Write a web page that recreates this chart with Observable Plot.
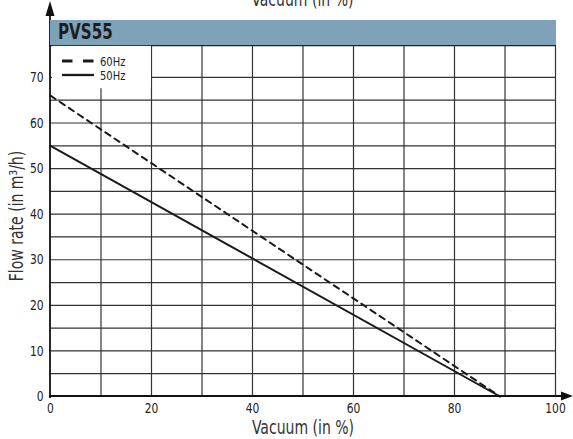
<!DOCTYPE html>
<html>
<head>
<meta charset="utf-8">
<script src="https://cdn.jsdelivr.net/npm/d3@7"></script>
<script src="https://cdn.jsdelivr.net/npm/@observablehq/plot@0.6"></script>
<style>
  body { margin: 0; background: #fff; }
  #wrap { position: relative; width: 573px; height: 439px; overflow: hidden;
    font-family: "Liberation Sans Narrow", "DejaVu Sans Condensed", "Arial Narrow", sans-serif; color: #222; }
  #wrap > svg { position: absolute; left: 0; top: 0; }
  .titlebar { position: absolute; left: 50px; top: 20px; width: 506px; height: 25px; background: #7ea2b8; }
  .titlebar span { position: absolute; left: 8px; top: 0px; font-weight: bold; font-size: 21px; line-height: 25px; color: #1e1e1e;
    transform: scaleX(0.8); transform-origin: left center; }
  .toptitle { position: absolute; left: 0; width: 605px; text-align: center; top: -12px; font-size: 19px; line-height: 22px; color: #333;
    transform: scaleX(0.82); transform-origin: 302px 0; }
  .legend { position: absolute; left: 62px; top: 54px; font-size: 13px; }
  .legend .row { display: flex; align-items: center; height: 14px; }
  .legend svg { margin-right: 6px; }
  .legend span { line-height: 13px; display: inline-block; transform: scaleX(0.85); transform-origin: left center; }
</style>
</head>
<body>
<div id="wrap"></div>
<script>
// ---- data ----
const vacuum = [0, 89];
const flow60Hz = [66, 0];
const flow50Hz = [55, 0];
const xTicks = [0, 20, 40, 60, 80, 100];
const yTicks = [0, 10, 20, 30, 40, 50, 60, 70];
const xGrid = [10, 20, 30, 40, 50, 60, 70, 80, 90, 100];
const yGrid = [5, 10, 15, 20, 25, 30, 35, 40, 45, 50, 55, 60, 65, 70];
const seriesNames = ["60Hz", "50Hz"];
const chartTitle = "PVS55";
const xLabel = "Vacuum (in %)";
const yLabel = "Flow rate (in m³/h)";
const xMax = 100, yMax = 77;
const legendBox = {x1: 0.4, x2: 20, y1: 67.5, y2: 76.8};

const d60 = vacuum.map((v, i) => ({x: v, y: flow60Hz[i]}));
const d50 = vacuum.map((v, i) => ({x: v, y: flow50Hz[i]}));

const font = '"Liberation Sans Narrow", "DejaVu Sans Condensed", "Arial Narrow", sans-serif';

const chart = Plot.plot({
  width: 573,
  height: 439,
  marginLeft: 50,
  marginRight: 18,
  marginTop: 45,
  marginBottom: 43,
  style: {fontFamily: font, fontSize: "15px", color: "#222", background: "transparent", overflow: "visible"},
  x: {domain: [0, xMax]},
  y: {domain: [0, yMax]},
  marks: [
    Plot.ruleX(xGrid, {x: d => d, y1: 0, y2: yMax, stroke: "#333", strokeWidth: 1.2, strokeOpacity: 1}),
    Plot.ruleY(yGrid, {y: d => d, x1: 0, x2: xMax, stroke: "#333", strokeWidth: 1.2, strokeOpacity: 1}),
    Plot.ruleY([yMax], {x1: 0, x2: xMax, stroke: "#222", strokeWidth: 1.4}),
    Plot.rect([legendBox], {x1: "x1", x2: "x2", y1: "y1", y2: "y2", fill: "white"}),
    Plot.line(d60, {x: "x", y: "y", stroke: "#1a1a1a", strokeWidth: 2, strokeDasharray: "6,5"}),
    Plot.line(d50, {x: "x", y: "y", stroke: "#1a1a1a", strokeWidth: 2}),
    Plot.axisX({ticks: xTicks, tickSize: 0, tickPadding: 6, label: null, fontSize: 14.5, tickFormat: d => d}),
    Plot.axisY({ticks: yTicks, tickSize: 0, tickPadding: 7, label: null, fontSize: 14.5, tickFormat: d => d}),
    Plot.text([xLabel], {frameAnchor: "bottom", textAnchor: "middle", lineAnchor: "middle", dy: 31, fontSize: 19, fill: "#333"}),
    Plot.text([yLabel], {frameAnchor: "left", textAnchor: "middle", lineAnchor: "middle", dx: -34, dy: -5, rotate: -90, fontSize: 19, fill: "#333"})
  ]
});

// axis lines with arrowheads
const sx = chart.scale("x"), sy = chart.scale("y");
const x0 = sx.apply(0), y0 = sy.apply(0);
const svgSel = d3.select(chart);
svgSel.append("line").attr("x1", x0).attr("x2", x0).attr("y1", y0 + 2).attr("y2", 10)
  .attr("stroke", "#111").attr("stroke-width", 1.8);
svgSel.append("line").attr("x1", x0 - 1).attr("x2", 565).attr("y1", y0).attr("y2", y0)
  .attr("stroke", "#111").attr("stroke-width", 1.8);
svgSel.append("path").attr("d", `M${x0},1 L${x0 + 4.5},16 L${x0 - 4.5},16 Z`).attr("fill", "#111");
svgSel.append("path").attr("d", `M573,${y0} L561,${y0 - 4.5} L561,${y0 + 4.5} Z`).attr("fill", "#111");

const wrap = document.getElementById("wrap");
wrap.appendChild(chart);

// condense SVG text horizontally to mimic a narrow typeface
chart.querySelectorAll("text").forEach(t => {
  const w = t.getComputedTextLength();
  if (w > 0) {
    t.setAttribute("textLength", (w * 0.82).toFixed(2));
    t.setAttribute("lengthAdjust", "spacingAndGlyphs");
  }
});

// top (cut) title
const topTitle = document.createElement("div");
topTitle.className = "toptitle";
topTitle.textContent = xLabel;
wrap.appendChild(topTitle);

// title bar
const tb = document.createElement("div");
tb.className = "titlebar";
tb.innerHTML = `<span>${chartTitle}</span>`;
wrap.appendChild(tb);

// legend
const lg = document.createElement("div");
lg.className = "legend";
const dashes = ["10.5,10.5", null];
seriesNames.forEach((name, i) => {
  const row = document.createElement("div");
  row.className = "row";
  row.innerHTML = `<svg width="32" height="6"><line x1="0" x2="32" y1="3" y2="3" stroke="#1a1a1a" stroke-width="${i === 0 ? 3 : 2.3}" ${dashes[i] ? `stroke-dasharray="${dashes[i]}"` : ""}/></svg><span>${name}</span>`;
  lg.appendChild(row);
});
wrap.appendChild(lg);
</script>
</body>
</html>
